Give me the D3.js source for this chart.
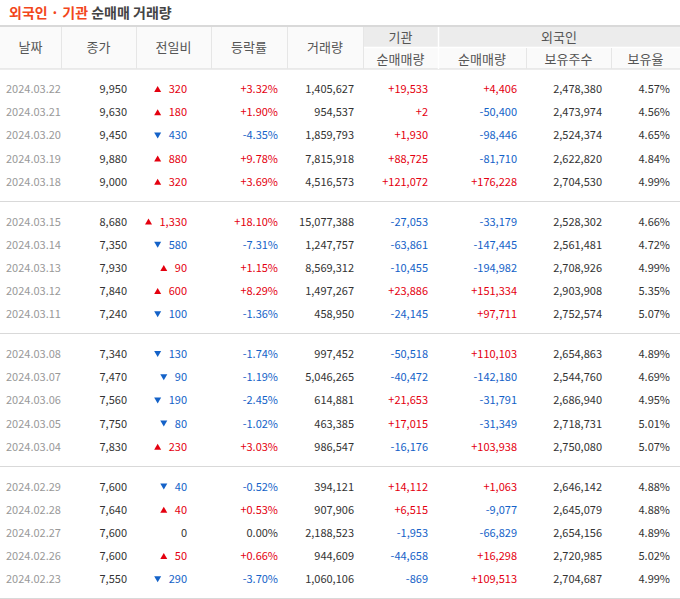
<!DOCTYPE html>
<html><head><meta charset="utf-8">
<script src="https://cdn.jsdelivr.net/npm/d3@7"></script>
<style>body{margin:0;background:#fff}text{font-family:"Noto Sans CJK KR","Noto Sans",sans-serif}</style>
</head><body>
<script>
var dates = ["2024.03.22","2024.03.21","2024.03.20","2024.03.19","2024.03.18",
  "2024.03.15","2024.03.14","2024.03.13","2024.03.12","2024.03.11",
  "2024.03.08","2024.03.07","2024.03.06","2024.03.05","2024.03.04",
  "2024.02.29","2024.02.28","2024.02.27","2024.02.26","2024.02.23"];
var closes = [9950,9630,9450,9880,9000,8680,7350,7930,7840,7240,7340,7470,7560,7750,7830,7600,7640,7600,7600,7550];
var changes = [320,180,-430,880,320,1330,-580,90,600,-100,-130,-90,-190,-80,230,-40,40,0,50,-290];
var rates = [3.32,1.90,-4.35,9.78,3.69,18.10,-7.31,1.15,8.29,-1.36,-1.74,-1.19,-2.45,-1.02,3.03,-0.52,0.53,0.00,0.66,-3.70];
var volumes = [1405627,954537,1859793,7815918,4516573,15077388,1247757,8569312,1497267,458950,997452,5046265,614881,463385,986547,394121,907906,2188523,944609,1060106];
var instNet = [19533,2,1930,88725,121072,-27053,-63861,-10455,23886,-24145,-50518,-40472,21653,17015,-16176,14112,6515,-1953,-44658,-869];
var forNet = [4406,-50400,-98446,-81710,176228,-33179,-147445,-194982,151334,97711,110103,-142180,-31791,-31349,103938,1063,-9077,-66829,16298,109513];
var forHold = [2478380,2473974,2524374,2622820,2704530,2528302,2561481,2708926,2903908,2752574,2654863,2544760,2686940,2718731,2750080,2646142,2645079,2654156,2720985,2704687];
var forRate = [4.57,4.56,4.65,4.84,4.99,4.66,4.72,4.99,5.35,5.07,4.89,4.69,4.95,5.01,5.07,4.88,4.88,4.89,5.02,4.99];

var W = 680, H = 599, RED = "#e4000f", BLUE = "#1462c8", TXT = "#333";
var colX = [0,61,136,211,287,363,438,526,611,680];
var svg = d3.select("body").append("svg").attr("width", W).attr("height", H);
var fmt = d3.formatLocale({decimal:".", thousands:",", grouping:[3], currency:["",""], minus:"-"}).format(",");
var sgn = function(v){ return (v > 0 ? "+" : "") + fmt(v); };
var col = function(v){ return v > 0 ? RED : v < 0 ? BLUE : TXT; };

// title
var t = svg.append("text").attr("x", 9).attr("y", 18).attr("font-size", 14).attr("font-weight", "bold");
t.append("tspan").attr("fill", "#f2461b").text("외국인 · 기관");
t.append("tspan").attr("fill", "#444").text(" 순매매 거래량");

// header
svg.append("rect").attr("x",0).attr("y",26).attr("width",W).attr("height",43).attr("fill","#fafafa");
svg.append("rect").attr("x",colX[5]).attr("y",26).attr("width",W-colX[5]).attr("height",21).attr("fill","#ececec");
svg.append("rect").attr("x",0).attr("y",25).attr("width",W).attr("height",2).attr("fill","#d9d9d9");
svg.append("line").attr("x1",0).attr("x2",W).attr("y1",69).attr("y2",69).attr("stroke","#d9d9d9");
svg.append("line").attr("x1",colX[5]).attr("x2",W).attr("y1",47.5).attr("y2",47.5).attr("stroke","#fff").attr("stroke-width",1.5);
[61,136,211,287,363].forEach(function(x){
  svg.append("line").attr("x1",x+0.5).attr("x2",x+0.5).attr("y1",27).attr("y2",69).attr("stroke","#e6e6e6");
});
svg.append("line").attr("x1",438.5).attr("x2",438.5).attr("y1",27).attr("y2",69).attr("stroke","#fff").attr("stroke-width",1.5);
[526,611].forEach(function(x){
  svg.append("line").attr("x1",x+0.5).attr("x2",x+0.5).attr("y1",48).attr("y2",69).attr("stroke","#e6e6e6");
});
var heads = ["날짜","종가","전일비","등락률","거래량"];
heads.forEach(function(h,i){
  svg.append("text").attr("x",(colX[i]+colX[i+1])/2).attr("y",52).attr("text-anchor","middle")
    .attr("font-size",13).attr("fill","#555").text(h);
});
svg.append("text").attr("x",(colX[5]+colX[6])/2).attr("y",42).attr("text-anchor","middle").attr("font-size",13).attr("fill","#555").text("기관");
svg.append("text").attr("x",(colX[6]+W)/2).attr("y",42).attr("text-anchor","middle").attr("font-size",13).attr("fill","#555").text("외국인");
["순매매량","순매매량","보유주수","보유율"].forEach(function(h,i){
  svg.append("text").attr("x",(colX[5+i]+colX[6+i])/2).attr("y",64).attr("text-anchor","middle")
    .attr("font-size",13).attr("fill","#555").text(h);
});

// rows
var groupH = 132.5;
var rowY = function(i){ return 89 + Math.floor(i/5)*groupH + (i%5)*23.2; };
for (var g = 1; g <= 4; g++) {
  var sy = Math.round(68 + g*groupH) + 0.5;
  svg.append("line").attr("x1",0).attr("x2",W).attr("y1",sy).attr("y2",sy).attr("stroke","#d9d9d9");
}
var rows = svg.selectAll("g.row").data(dates).enter().append("g")
  .attr("transform", function(d,i){ return "translate(0," + (rowY(i)+4) + ")"; })
  .attr("font-size", 11);
function cell(x, fn, colorFn, anchor) {
  rows.append("text").attr("x", x).attr("text-anchor", anchor || "end")
    .attr("fill", colorFn || TXT).text(fn);
}
cell(6, function(d){ return d; }, "#999", "start");
cell(127, function(d,i){ return fmt(closes[i]); });
rows.each(function(d,i){
  var v = changes[i], g = d3.select(this);
  var tx = g.append("text").attr("x",187).attr("text-anchor","end").attr("fill",col(v)).text(fmt(Math.abs(v)));
  if (v !== 0) {
    var x = 187 - tx.node().getComputedTextLength() - 11;
    var p = v > 0 ? "M"+(x-3.5)+",-1L"+(x+3.5)+",-1L"+x+",-7Z" : "M"+(x-3.5)+",-7L"+(x+3.5)+",-7L"+x+",-1Z";
    g.append("path").attr("d", p).attr("fill", col(v));
  }
});
cell(278, function(d,i){ return (rates[i]>0?"+":"") + rates[i].toFixed(2) + "%"; }, function(d,i){ return col(rates[i]); });
cell(354, function(d,i){ return fmt(volumes[i]); });
cell(428, function(d,i){ return sgn(instNet[i]); }, function(d,i){ return col(instNet[i]); });
cell(517, function(d,i){ return sgn(forNet[i]); }, function(d,i){ return col(forNet[i]); });
cell(602, function(d,i){ return fmt(forHold[i]); });
cell(670, function(d,i){ return forRate[i].toFixed(2) + "%"; });
</script>
</body></html>
